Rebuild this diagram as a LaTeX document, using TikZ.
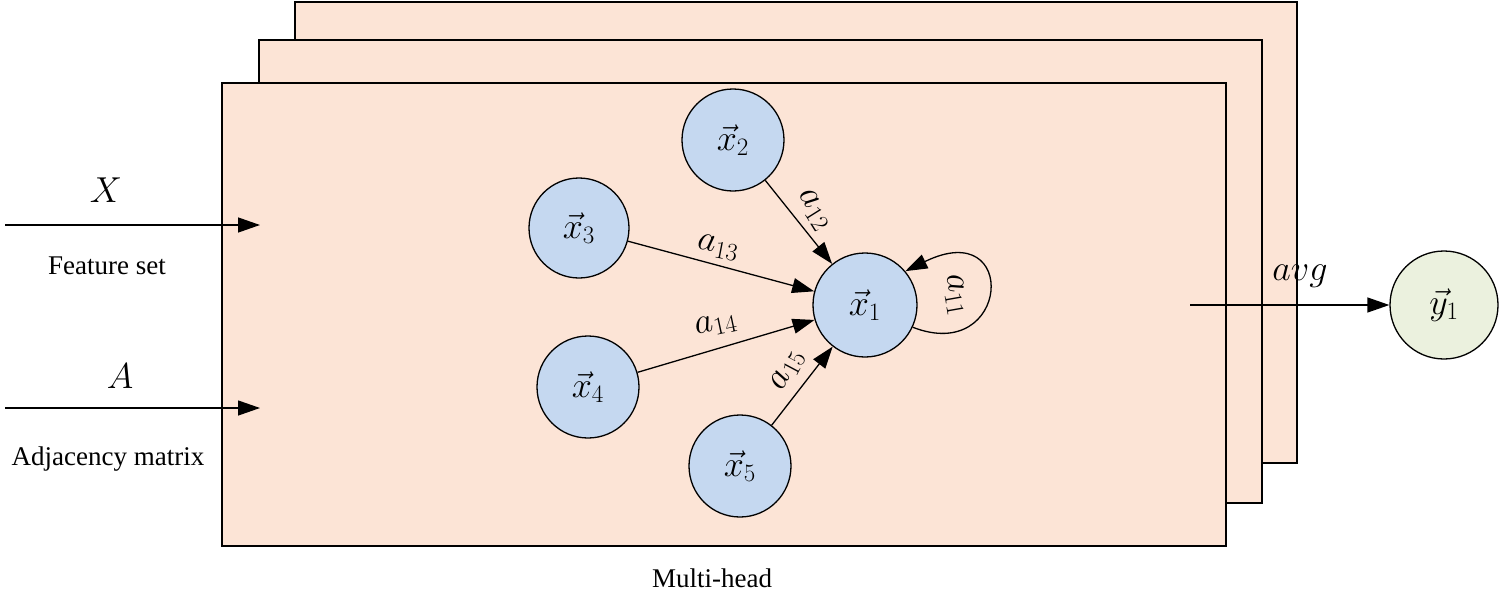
\documentclass[tikz,border=0pt]{standalone}
\usepackage{fontspec}
\setmainfont{Liberation Serif}
\usetikzlibrary{arrows.meta}
\definecolor{peach}{HTML}{FCE4D6}
\definecolor{nblue}{HTML}{C5D8F0}
\definecolor{ngreen}{HTML}{EBF1DE}
\newcommand\mth[1]{\scalebox{1.45}{$#1$}}
\begin{document}
\begin{tikzpicture}[x=1pt,y=-1pt,
  panel/.style={draw=black,line width=1.3pt,fill=peach},
  nd/.style={circle,draw=black,line width=1.3pt,fill=nblue,minimum size=102pt,inner sep=0pt,font=\fontsize{24}{28}\selectfont},
  arr/.style={line width=1.3pt,-{Triangle[length=22pt,width=15pt]}},
  lab/.style={font=\fontsize{24}{28}\selectfont},
  txt/.style={font=\fontsize{27}{31}\selectfont}]
\useasboundingbox (0,0) rectangle (1501,597);
\draw[panel] (295,2) rectangle (1297,463);
\draw[panel] (259,40) rectangle (1262,503);
\draw[panel] (222,83) rectangle (1226,546);
\node[nd] (x2) at (733,140) {\mth{\vec{x}_2}};
\node[nd,minimum size=100pt] (x3) at (579,228) {\mth{\vec{x}_3}};
\node[nd,minimum size=104pt] (x1) at (865,305) {\mth{\vec{x}_1}};
\node[nd] (x4) at (588,387) {\mth{\vec{x}_4}};
\node[nd] (x5) at (740,466) {\mth{\vec{x}_5}};
\node[nd,fill=ngreen,minimum size=108pt] (y1) at (1444,305) {\mth{\vec{y}_1}};
\draw[arr] (x2) -- (x1);
\node[lab,rotate=-58] (l12) at (814,210) {\mth{a_{12}}};
\draw[arr] (x3) -- (x1);
\node[lab,rotate=-11] (l13) at (718,248) {\mth{a_{13}}};
\draw[arr] (x4) -- (x1);
\node[lab,rotate=12] (l14) at (716,325) {\mth{a_{14}}};
\draw[arr] (x5) -- (x1);
\node[lab,rotate=62] (l15) at (788,370) {\mth{a_{15}}};
\draw[arr] (x1.-25) .. controls (1010,365) and (1020,215) .. (x1.40);
\node[lab,rotate=-80] (l11) at (955,295) {\mth{a_{11}}};
\coordinate (i1) at (5,225); \coordinate (t1) at (260,225);
\coordinate (i2) at (5,408); \coordinate (t2) at (260,408);
\draw[arr] (i1) -- (t1);
\draw[arr] (i2) -- (t2);
\node[lab] (X) at (106,190) {\mth{X}};
\node[txt] (fs) at (107,266) {Feature set};
\node[lab] (A) at (120,376) {\mth{A}};
\node[txt] (am) at (108,459) {Adjacency matrix};
\coordinate (o) at (1190,305);
\draw[arr] (o) -- (y1);
\node[lab] (avg) at (1300,276) {\mth{avg}};
\node[txt] (mh) at (712,578) {Multi-head};
\end{tikzpicture}
\end{document}
